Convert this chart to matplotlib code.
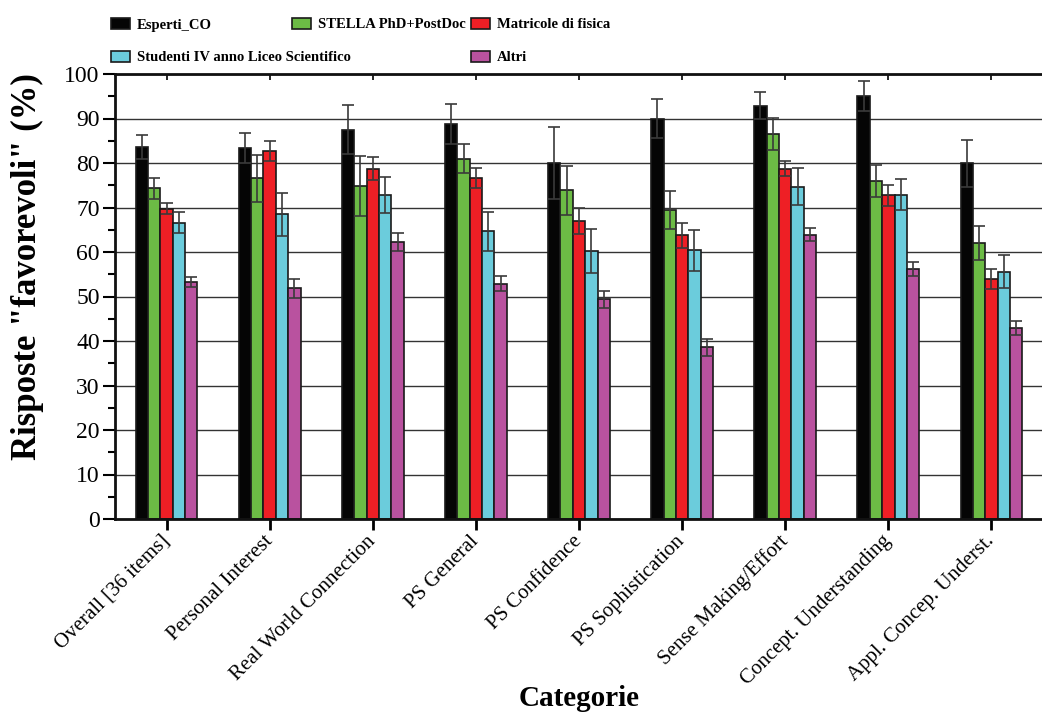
import numpy as np
import matplotlib
matplotlib.use("Agg")
import matplotlib.pyplot as plt
from matplotlib.patches import Rectangle
from matplotlib.ticker import MultipleLocator
from matplotlib import markers

# Categories and series (percent of favourable answers, with error)
categories = [
    "Overall [36 items]", "Personal Interest", "Real World Connection",
    "PS General", "PS Confidence", "PS Sophistication",
    "Sense Making/Effort", "Concept. Understanding", "Appl. Concep. Underst.",
]
series_names = [
    "Esperti_CO", "STELLA PhD+PostDoc", "Matricole di fisica",
    "Studenti IV anno Liceo Scientifico", "Altri",
]
esperti = [83.6, 83.4, 87.5, 88.8, 80.0, 90.0, 92.9, 95.0, 79.9]
esperti_err = [2.8, 3.4, 5.5, 4.5, 8.0, 4.4, 3.1, 3.4, 5.3]
stella = [74.3, 76.6, 74.8, 81.0, 73.9, 69.5, 86.6, 76.0, 62.0]
stella_err = [2.4, 5.3, 6.8, 3.2, 5.5, 4.3, 3.6, 3.6, 3.8]
matricole = [69.7, 82.7, 78.7, 76.6, 67.0, 63.8, 78.7, 72.7, 53.9]
matricole_err = [1.2, 2.3, 2.6, 2.3, 3.0, 2.8, 1.7, 2.4, 2.3]
studenti = [66.6, 68.5, 72.8, 64.7, 60.2, 60.4, 74.7, 72.9, 55.6]
studenti_err = [2.4, 4.8, 4.0, 4.4, 5.0, 4.6, 4.1, 3.4, 3.7]
altri = [53.2, 51.8, 62.2, 52.9, 49.4, 38.6, 63.9, 56.2, 43.0]
altri_err = [1.1, 2.1, 2.0, 1.6, 1.9, 1.9, 1.5, 1.6, 1.6]

values = [esperti, stella, matricole, studenti, altri]
errors = [esperti_err, stella_err, matricole_err, studenti_err, altri_err]
colors = ["#050505", "#6CBB45", "#EE1F25", "#6BCCDC", "#B9529F"]

plt.rcParams["font.family"] = ["Liberation Serif", "DejaVu Serif"]

W, H = 1042, 713
fig = plt.figure(figsize=(W / 100, H / 100), dpi=100)
ax = fig.add_axes([115 / W, 1 - 519 / H, (1043 - 115) / W, (519 - 74) / H])

x = np.arange(len(categories))
bar_w = 0.12
for i, (vals, errs, col) in enumerate(zip(values, errors, colors)):
    pos = x + (i - 2) * bar_w
    ax.bar(pos, vals, width=bar_w, color=col, edgecolor="#1a1a1a",
           linewidth=1.2, zorder=2)
    ax.errorbar(pos, vals, yerr=errs, fmt="none", ecolor="#3a3a3a",
                elinewidth=1.2, capsize=4.5, capthick=1.2, zorder=3)

ax.set_xlim(-0.5, len(categories) - 0.5)
ax.set_ylim(0, 100)
ax.yaxis.set_major_locator(MultipleLocator(10))
ax.yaxis.set_minor_locator(MultipleLocator(5))
ax.grid(axis="y", which="major", color="#333333", linewidth=1.0, zorder=0)
ax.set_axisbelow(True)

for side in ["left", "bottom", "top", "right"]:
    ax.spines[side].set_linewidth(2.0)
    ax.spines[side].set_color("#111111")

ax.set_xticks(x)
ax.set_xticklabels(categories, rotation=45, ha="right", va="center",
                   rotation_mode="anchor", fontsize=15)
ax.tick_params(axis="x", which="major", direction="out", length=8, width=2,
               pad=6, top=True)
ax.tick_params(axis="y", which="major", direction="out", length=9, width=1.5,
               labelsize=17, pad=2)
ax.tick_params(axis="y", which="minor", direction="out", length=5, width=1.5)

# short inward ticks on the top spine
for tick in ax.xaxis.get_major_ticks():
    tick.tick2line.set_marker(markers.TICKDOWN)
    tick.tick2line.set_markersize(4)
    tick.tick2line.set_markeredgewidth(1.2)

ax.set_xlabel("Categorie", fontsize=21, fontweight="bold")
ax.xaxis.set_label_coords(0.5, -0.372)
ax.xaxis.label.set_va("top")
ax.set_ylabel('Risposte "favorevoli" (%)', fontsize=25, fontweight="bold")
ax.yaxis.set_label_coords(-0.094, 0.567)
ax.yaxis.label.set_va("center")

# legend laid out in three columns above the plot
legend_items = [
    (0, 111, 23.5), (1, 292, 23.5), (2, 471, 23.5),
    (3, 111, 56), (4, 471, 56),
]
for idx, px, py in legend_items:
    rect = Rectangle((px / W, 1 - (py + 5.5) / H), 19 / W, 11 / H,
                     transform=fig.transFigure, facecolor=colors[idx],
                     edgecolor="#1a1a1a", linewidth=1.2)
    fig.add_artist(rect)
    fig.text((px + 26) / W, 1 - py / H, series_names[idx], fontsize=10.5,
             fontweight="bold", ha="left", va="center_baseline")

fig.savefig("out.png", dpi=100)
